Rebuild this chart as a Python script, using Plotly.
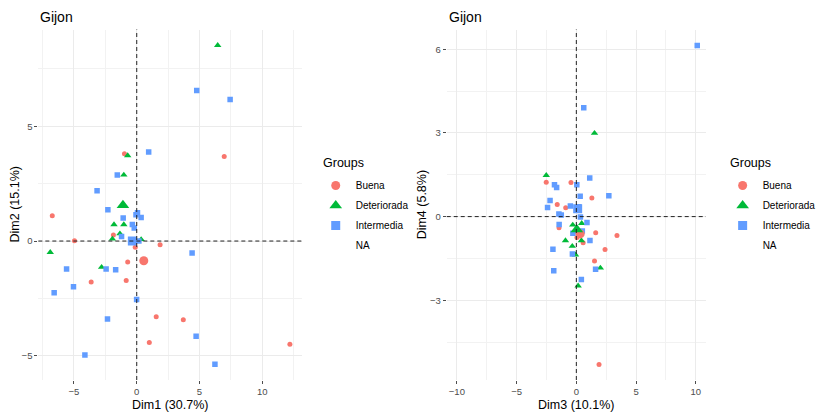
import plotly.graph_objects as go

groups = ["Buena", "Deteriorada", "Intermedia"]
colors = ["#F8766D", "#00BA38", "#619CFF"]
symbols = ["circle", "triangle-up", "square"]
point_sizes = [5, 6.5, 5.5]
centroid_sizes = [9, 11, 9]

# ---- Panel 1: Dim1 vs Dim2 ----
buena_dim1 = [-0.98, 6.97, -6.73, -1.86, -4.96, -0.12, 1.86, -0.72, -3.63, -0.84, 1.55, 3.71, 1.00, 12.20]
buena_dim2 = [3.80, 3.68, 1.10, 0.26, 0.01, -0.27, -0.16, -0.91, -1.78, -1.72, -3.30, -3.43, -4.42, -4.49]
deter_dim1 = [6.45, -0.72, -1.03, -1.81, -1.03, -1.34, -1.94, 0.35, -6.89, -2.80]
deter_dim2 = [8.52, 3.72, 2.88, 0.72, 0.72, 0.32, 0.09, 0.07, -0.49, -1.14]
inter_dim1 = [4.78, 7.44, 0.95, -1.55, -3.16, -2.30, -1.08, -0.06, 0.06, 0.35, -0.35, -0.20, -1.21, 0.17,
              4.41, -2.44, -1.68, -5.59, -5.04, -6.58, -0.01, -2.33, 4.73, -4.13, 6.23]
inter_dim2 = [6.55, 6.16, 3.88, 2.88, 2.19, 1.36, 1.00, 1.14, 1.23, 1.03, 0.72, 0.57, 0.20, 0.00,
              -0.52, -1.22, -1.25, -1.22, -1.99, -2.25, -2.54, -3.39, -4.14, -4.96, -5.36]
centroid_dim1 = [0.56, -1.10, -0.35]
centroid_dim2 = [-0.86, 1.56, 0.00]

# ---- Panel 2: Dim3 vs Dim4 ----
buena_dim3 = [-2.52, -0.45, 1.30, -1.60, -0.89, -1.45, 1.62, 3.40, 0.57, 2.40, 1.52, 1.90, -0.15, 0.05]
buena_dim4 = [1.23, 1.22, 0.67, 0.43, 0.32, -0.40, -0.58, -0.68, -0.94, -1.18, -1.59, -5.30, -0.55, -0.75]
deter_dim3 = [1.52, -2.52, 0.45, -0.91, 0.42, -0.34, -0.07, 2.01, 0.15, -0.30]
deter_dim4 = [2.99, 1.48, -0.24, -0.86, -0.86, -1.06, -1.37, -1.84, -2.48, -0.30]
inter_dim3 = [10.12, 0.62, -1.83, -1.65, 0.04, 1.12, 2.72, 0.32, -2.20, -2.41, -0.50, 0.20, -1.46, -1.26,
              0.34, 0.89, -1.44, 0.50, -0.29, 1.14, -1.96, -0.33, 1.61, -1.89, 0.42]
inter_dim4 = [6.14, 3.90, 1.14, 1.04, 1.14, 1.38, 0.75, 0.73, 0.58, 0.33, 0.38, 0.35, 0.09, 0.06,
              -0.01, -0.21, -0.28, -0.52, -0.60, -0.86, -1.17, -1.34, -1.89, -1.94, -2.26]
centroid_dim3 = [0.32, 0.04, 0.11]
centroid_dim4 = [-0.62, -0.46, 0.28]

panel_title = "Gijon"
x1_title, y1_title = "Dim1 (30.7%)", "Dim2 (15.1%)"
x2_title, y2_title = "Dim3 (10.1%)", "Dim4 (5.8%)"
legend_title = "Groups"
na_label = "NA"

W, H = 821, 415
FONT = "Arial, Liberation Sans, sans-serif"
fig = go.Figure()

panels = [
    ("x", "y", "legend", [(buena_dim1, buena_dim2), (deter_dim1, deter_dim2), (inter_dim1, inter_dim2)],
     centroid_dim1, centroid_dim2),
    ("x2", "y2", "legend2", [(buena_dim3, buena_dim4), (deter_dim3, deter_dim4), (inter_dim3, inter_dim4)],
     centroid_dim3, centroid_dim4),
]

for xa, ya, lg, data, cx, cy in panels:
    for i, (xs, ys) in enumerate(data):
        fig.add_trace(go.Scatter(
            x=xs, y=ys, mode="markers", xaxis=xa, yaxis=ya, showlegend=False,
            marker=dict(color=colors[i], symbol=symbols[i], size=point_sizes[i], line=dict(width=0)),
            hoverinfo="skip"))
    for i in range(3):
        fig.add_trace(go.Scatter(
            x=[cx[i]], y=[cy[i]], mode="markers", xaxis=xa, yaxis=ya, name=groups[i], legend=lg,
            legendgroup=lg + groups[i],
            marker=dict(color=colors[i], symbol=symbols[i], size=centroid_sizes[i], line=dict(width=0)),
            legendrank=i + 1))
    fig.add_trace(go.Scatter(
        x=[None], y=[None], mode="markers", xaxis=xa, yaxis=ya, name=na_label, legend=lg,
        legendgroup=lg + na_label,
        marker=dict(color="rgba(0,0,0,0)", size=9), legendrank=4))


def px_x(p):
    return p / W


def px_y(p):
    return 1 - p / H


def minor(dt):
    return dict(dtick=dt, tick0=0, showgrid=True, gridcolor="#F2F2F2", gridwidth=0.6, ticks="")


y_dom = [px_y(380), px_y(29.5)]
axis_common = dict(
    showline=False, zeroline=False, showgrid=True, gridcolor="#EBEBEB", gridwidth=1,
    ticks="outside", ticklen=3, tickcolor="#4D4D4D", tickwidth=1, automargin=False,
    tickfont=dict(family=FONT, size=9.5, color="#4D4D4D"),
)

legend_common = dict(xanchor="left", yanchor="top", tracegroupgap=1,
                     font=dict(family=FONT, size=10, color="#000"), bgcolor="rgba(0,0,0,0)")

fig.update_layout(
    width=W, height=H, margin=dict(l=0, r=0, t=0, b=0),
    paper_bgcolor="white", plot_bgcolor="white",
    font=dict(family=FONT),
    xaxis=dict(domain=[px_x(39.1), px_x(307.8)], range=[-7.84, 13.15], dtick=5, tick0=0,
               minor=minor(2.5), anchor="y", **axis_common),
    yaxis=dict(domain=y_dom, range=[-6.05, 9.21], dtick=5, tick0=0,
               minor=minor(2.5), anchor="x", **axis_common),
    xaxis2=dict(domain=[px_x(455.6), px_x(720.0)], range=[-10.85, 10.85], dtick=5, tick0=0,
                minor=minor(2.5), anchor="y2", **axis_common),
    yaxis2=dict(domain=y_dom, range=[-5.86, 6.71], dtick=3, tick0=0,
                minor=minor(1.5), anchor="x2", **axis_common),
    legend=dict(x=px_x(322), y=px_y(171), **legend_common),
    legend2=dict(x=px_x(737), y=px_y(171), **legend_common),
)

# dashed reference lines through the origin
for xr, yr in [("x", "y"), ("x2", "y2")]:
    fig.add_shape(type="line", xref=xr, yref=yr + " domain", x0=0, x1=0, y0=0, y1=1,
                  line=dict(color="#222222", width=1, dash="4px,3px"), layer="above")
    fig.add_shape(type="line", xref=xr + " domain", yref=yr, x0=0, x1=1, y0=0, y1=0,
                  line=dict(color="#222222", width=1, dash="4px,3px"), layer="above")

# panel titles
for xr in ["x", "x2"]:
    fig.add_annotation(text=panel_title, xref=xr + " domain", yref="paper", x=0, y=px_y(17),
                       xanchor="left", yanchor="middle", showarrow=False,
                       font=dict(family=FONT, size=14, color="#000"))

# axis titles
for xr, txt in [("x", x1_title), ("x2", x2_title)]:
    fig.add_annotation(text=txt, xref=xr + " domain", yref="paper", x=0.5, y=px_y(405),
                       xanchor="center", yanchor="middle", showarrow=False,
                       font=dict(family=FONT, size=12.5, color="#000"))
for xpos, yr, txt in [(15, "y", y1_title), (430, "y2", y2_title)]:
    fig.add_annotation(text=txt, xref="paper", yref=yr + " domain", x=px_x(xpos), y=0.5,
                       xanchor="center", yanchor="middle", showarrow=False, textangle=-90,
                       font=dict(family=FONT, size=12.5, color="#000"))

# legend titles
for xpos in [327, 742.5]:
    fig.add_annotation(text=legend_title, xref="paper", yref="paper", x=px_x(xpos), y=px_y(163),
                       xanchor="left", yanchor="middle", showarrow=False,
                       font=dict(family=FONT, size=12.5, color="#000"))

fig.write_html("out.html", config={"displayModeBar": False},
               post_script="document.body.style.margin='0';document.body.style.overflow='hidden';")
